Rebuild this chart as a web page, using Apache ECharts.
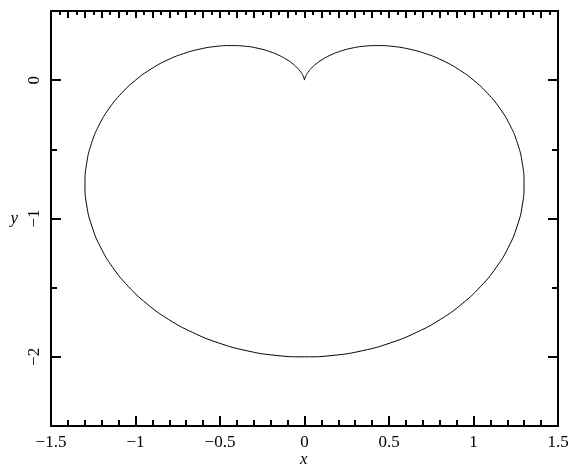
<!DOCTYPE html>
<html>
<head>
<meta charset="utf-8">
<script src="https://cdn.jsdelivr.net/npm/echarts@6/dist/echarts.min.js"></script>
<style>
html,body{margin:0;padding:0;background:#fff;}
#chart{width:571px;height:465px;}
</style>
</head>
<body>
<div id="chart"></div>
<script>
// points, going round from the cusp at (0,0)
var curveX=[0,-0.000,-0.003,-0.009,-0.021,-0.040,-0.067,-0.104,-0.150,-0.207,-0.274,-0.349,-0.433,-0.523,-0.618,-0.716,-0.814,-0.909,
            -1.000,-1.083,-1.156,-1.216,-1.261,-1.289,-1.299,-1.289,-1.258,-1.207,-1.135,-1.043,-0.933,-0.806,-0.663,-0.509,-0.345,-0.174,
            0,
            0.174,0.345,0.509,0.663,0.806,0.933,1.043,1.135,1.207,1.258,1.289,1.299,1.289,1.261,1.216,1.156,1.083,
            1.000,0.909,0.814,0.716,0.618,0.523,0.433,0.349,0.274,0.207,0.150,0.104,0.067,0.040,0.021,0.009,0.003,0.000,0];
var curveY=[0,0.004,0.015,0.033,0.057,0.085,0.116,0.148,0.179,0.207,0.230,0.245,0.250,0.244,0.225,0.192,0.144,0.080,
            0,-0.095,-0.204,-0.326,-0.459,-0.601,-0.750,-0.903,-1.056,-1.207,-1.353,-1.490,-1.616,-1.728,-1.823,-1.899,-1.955,-1.989,
            -2.000,
            -1.989,-1.955,-1.899,-1.823,-1.728,-1.616,-1.490,-1.353,-1.207,-1.056,-0.903,-0.750,-0.601,-0.459,-0.326,-0.204,-0.095,
            0,0.080,0.144,0.192,0.225,0.244,0.250,0.245,0.230,0.207,0.179,0.148,0.116,0.085,0.057,0.033,0.015,0.004,0];
var yMajorTicks=[-2,-1,0];
var yMinorTicks=[-1.5,-0.5];

window.onload=function(){
    var chart=echarts.init(document.getElementById('chart'),null,{renderer:'canvas'});
    var pts=curveX.map(function(x,i){return [x,curveY[i]];});
    var font='"Liberation Serif", "DejaVu Serif", serif';
    function minus(v){return String(v).replace('-','\u2212');}
    var line={show:true,onZero:false,lineStyle:{color:'#000',width:2}};
    function yAxis(pos,ticks,len,labels){
        return {
            type:'value',position:pos,min:-2.5,max:0.5,interval:0.5,
            axisLine:line,
            axisTick:{show:true,inside:true,length:len,customValues:ticks,lineStyle:{color:'#000',width:2}},
            axisLabel:{show:labels,customValues:yMajorTicks,rotate:90,margin:8,color:'#000',fontFamily:font,fontSize:17,formatter:minus},
            splitLine:{show:false},
            name:labels?'y':'',nameLocation:'middle',nameRotate:0,nameGap:33,
            nameTextStyle:{color:'#000',fontFamily:font,fontStyle:'italic',fontSize:17}
        };
    }
    chart.setOption({
        animation:false,
        backgroundColor:'#fff',
        grid:{left:51,top:11,right:13,bottom:39,containLabel:false,outerBoundsMode:'none'},
        // x axis name sits partly below the window edge, as in the original
        graphic:[{
            type:'text',left:300,top:451,silent:true,
            style:{text:'x',fill:'#000',font:'italic 17px "Liberation Serif", "DejaVu Serif", serif'}
        }],
        xAxis:[{
            type:'value',position:'bottom',min:-1.5,max:1.5,interval:0.5,
            axisLine:line,
            axisTick:{show:true,inside:true,length:10,lineStyle:{color:'#000',width:2}},
            minorTick:{show:true,splitNumber:5,length:6,lineStyle:{color:'#000',width:2}},
            axisLabel:{color:'#000',fontFamily:font,fontSize:17,margin:8,formatter:minus},
            splitLine:{show:false}
        },{
            type:'value',position:'top',min:-1.5,max:1.5,interval:0.1,
            axisLine:line,
            axisTick:{show:true,inside:true,length:7,lineStyle:{color:'#000',width:2}},
            minorTick:{show:true,splitNumber:2,length:4,lineStyle:{color:'#000',width:2}},
            axisLabel:{show:false},
            splitLine:{show:false}
        }],
        yAxis:[
            yAxis('left',yMajorTicks,10,true),
            yAxis('left',yMinorTicks,6,false),
            yAxis('right',yMajorTicks,10,false),
            yAxis('right',yMinorTicks,6,false)
        ],
        series:[{
            type:'line',xAxisIndex:0,yAxisIndex:0,
            data:pts,smooth:true,showSymbol:false,
            lineStyle:{color:'#000',width:1},
            silent:true
        }]
    });
};
</script>
</body>
</html>
